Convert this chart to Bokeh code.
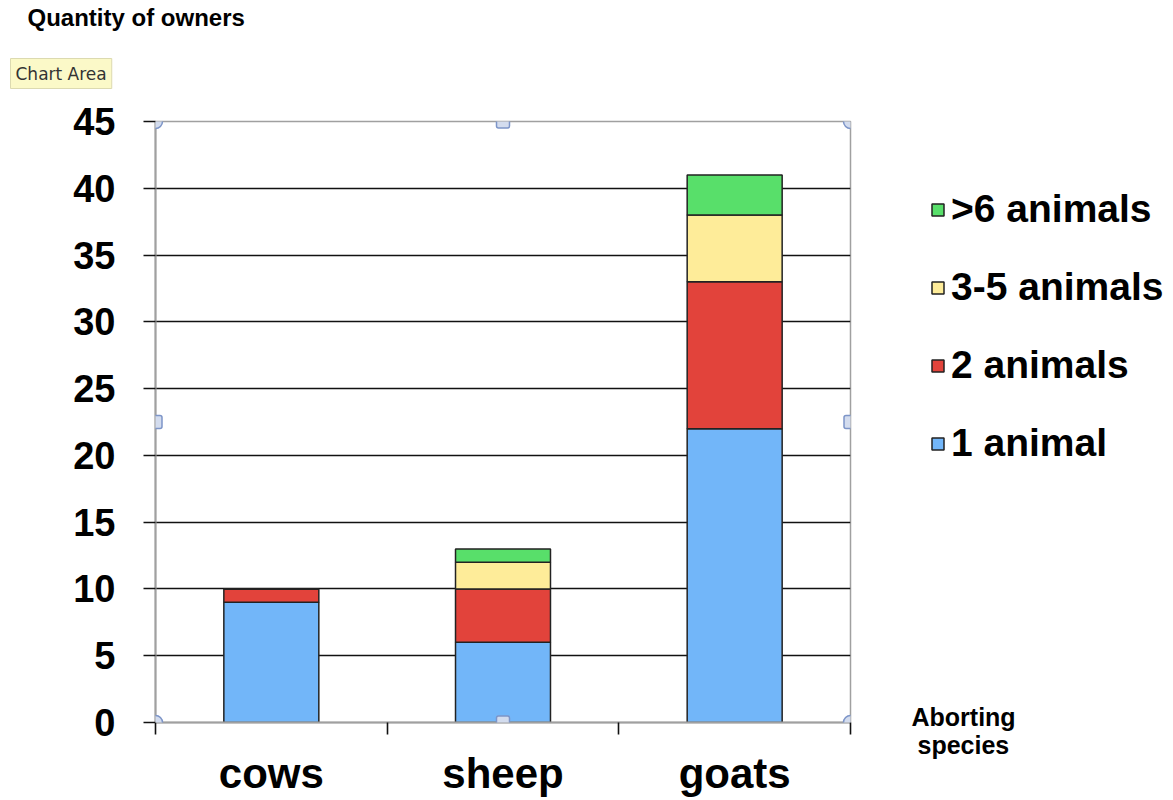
from bokeh.plotting import figure
from bokeh.models import (Range1d, FixedTicker, LinearAxis, Legend, LegendItem,
                          Title, BoxAnnotation, ColumnDataSource)
from bokeh.embed import file_html
from bokeh.resources import INLINE

species = ["cows", "sheep", "goats"]
one_animal = [9, 6, 22]
two_animals = [1, 4, 11]
three_to_five = [0, 2, 5]
more_than_six = [0, 1, 3]
series_names = ["1 animal", "2 animals", "3-5 animals", ">6 animals"]
y_ticks = [0, 5, 10, 15, 20, 25, 30, 35, 40, 45]
x_axis_title = ["Aborting", "species"]
y_axis_title = "Quantity of owners"

colors = ["#72B6F9", "#E2433B", "#FEEC99", "#58DF6A"]
FONT = "Liberation Sans"

n = len(species)
xs = [i + 0.5 for i in range(n)]
src = ColumnDataSource(dict(x=xs, s1=one_animal, s2=two_animals, s3=three_to_five, s4=more_than_six))

p = figure(frame_width=695, frame_height=601, width=1173, height=800,
           x_range=Range1d(0, n), y_range=Range1d(0, y_ticks[-1]),
           min_border_left=155, min_border_right=323, min_border_top=121, min_border_bottom=78,
           output_backend="svg", toolbar_location=None, title=None)
p.background_fill_color = "white"
p.border_fill_color = "white"
p.outline_line_color = "#A0A0A0"
p.outline_line_width = 1.5

renderers = p.vbar_stack(["s1", "s2", "s3", "s4"], x="x", width=0.41, source=src,
                         color=colors, line_color="#222222", line_width=1.5)
for r in renderers:
    r.glyph.line_color = "#222222"
    r.glyph.line_width = 1.5

# grid
p.xgrid.visible = False
p.ygrid.ticker = FixedTicker(ticks=y_ticks)
p.ygrid.grid_line_color = "#111111"
p.ygrid.grid_line_width = 1.4

# y axis
ya = p.yaxis[0]
ya.ticker = FixedTicker(ticks=y_ticks)
ya.axis_line_color = "#A0A0A0"
ya.axis_line_width = 2
ya.major_tick_line_color = "#111111"
ya.major_tick_line_width = 1.4
ya.major_tick_out = 12
ya.major_tick_in = 0
ya.minor_tick_line_color = None
ya.major_label_standoff = 28
ya.major_label_text_font = FONT
ya.major_label_text_font_style = "bold"
ya.major_label_text_font_size = "38px"
ya.major_label_text_color = "black"

# x axis 1: boundary ticks between categories
xa = p.xaxis[0]
xa.ticker = FixedTicker(ticks=list(range(n + 1)))
xa.axis_line_color = "#A0A0A0"
xa.axis_line_width = 2
xa.major_tick_line_color = "#111111"
xa.major_tick_line_width = 1.6
xa.major_tick_out = 12
xa.major_tick_in = 0
xa.minor_tick_line_color = None
xa.major_label_text_font_size = "1px"
xa.major_label_text_color = None
xa.major_label_standoff = 0

# x axis 2: category labels
xl = LinearAxis(ticker=FixedTicker(ticks=xs),
                major_label_overrides={x: s for x, s in zip(xs, species)})
xl.axis_line_color = None
xl.major_tick_line_color = None
xl.minor_tick_line_color = None
xl.major_tick_out = 0
xl.major_label_standoff = 15
xl.major_label_text_font = FONT
xl.major_label_text_font_style = "bold"
xl.major_label_text_font_size = "42px"
xl.major_label_text_color = "black"
p.add_layout(xl, "below")

# x axis title (two lines, to the right of the axis end)
p.add_layout(Title(text=x_axis_title[0], align="left", offset=756, standoff=-193,
                   vertical_align="top",
                   text_font=FONT, text_font_style="bold", text_font_size="25px",
                   text_color="black"), "below")
p.add_layout(Title(text=x_axis_title[1], align="left", offset=762, standoff=-137,
                   vertical_align="top",
                   text_font=FONT, text_font_style="bold", text_font_size="25px",
                   text_color="black"), "below")

# legend
items = [LegendItem(label=series_names[i], renderers=[renderers[i]]) for i in reversed(range(4))]
legend = Legend(items=items, location=(80, 257), orientation="vertical",
                glyph_width=15, glyph_height=15, label_standoff=6,
                label_text_font=FONT, label_text_font_style="bold",
                label_text_font_size="39px", label_text_color="black",
                label_height=44, spacing=34,
                padding=0, margin=0, border_line_color=None, background_fill_alpha=0)
p.add_layout(legend, "right")

# texts above the plot
p.add_layout(Title(text="Chart Area", align="left", offset=-145, standoff=66,
                   text_font="DejaVu Sans", text_font_style="normal", text_font_size="17px",
                   text_color="#333333", background_fill_color="#FBF9C8",
                   border_line_color="#DCDAB0", padding=5), "above")
p.add_layout(Title(text=y_axis_title, align="left", offset=-128, standoff=-14,
                   text_font=FONT, text_font_style="bold", text_font_size="24px",
                   text_color="black"), "above")

# selection handles
ymax = y_ticks[-1]
dx_c, dy_c = 7 / (695 / n), 7 / (601 / ymax)
dx_s, dy_s = 6.5 / (695 / n), 6.5 / (601 / ymax)
for hx, hy, kind in [(0, 0, "c"), (n, 0, "c"), (0, ymax, "c"), (n, ymax, "c"),
                     (n / 2, 0, "s"), (n / 2, ymax, "s"), (0, ymax / 2, "s"), (n, ymax / 2, "s")]:
    dx, dy = (dx_c, dy_c) if kind == "c" else (dx_s, dy_s)
    p.add_layout(BoxAnnotation(left=hx - dx, right=hx + dx, bottom=hy - dy, top=hy + dy,
                               fill_color="#D3DCEE", fill_alpha=1, line_color="#7D95C8",
                               line_width=1.5, line_alpha=1,
                               border_radius=7 if kind == "c" else 2, level="overlay"))

open("out.html", "w").write(file_html(p, INLINE))
